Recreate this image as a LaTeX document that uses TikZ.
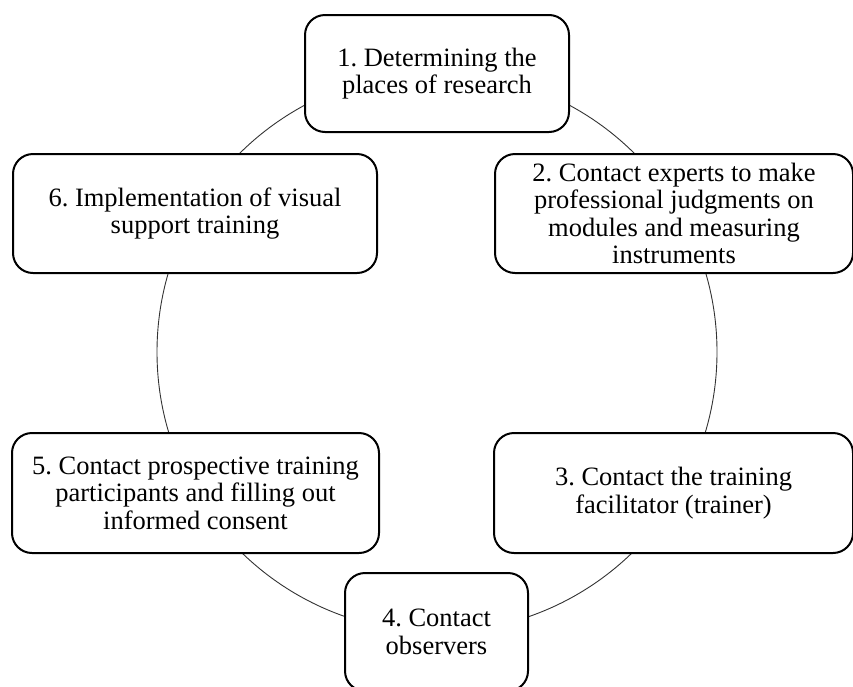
\documentclass[tikz,border=0pt]{standalone}
\usepackage{fontspec}
\setmainfont{Liberation Serif}
\begin{document}
\frenchspacing
\begin{tikzpicture}[x=1pt,y=-1pt,
  stepbox/.style={draw=black, line width=2pt, rounded corners=20pt, fill=white,
    align=center, inner sep=0pt, font=\fontsize{26.5}{27.6}\selectfont}]
\useasboundingbox (0,0) rectangle (853,686);
\clip (0,0) rectangle (853,686);
\draw[line width=0.9pt, black!80] (437,352) circle[radius=280];
\node[stepbox, minimum width=264pt, minimum height=117pt] (n1) at (437,73.5) {1. Determining the\\places of research};
\node[stepbox, minimum width=358pt, minimum height=119pt] (n2) at (674,213.5) {2. Contact experts to make\\professional judgments on\\modules and measuring\\instruments};
\node[stepbox, minimum width=359pt, minimum height=120pt] (n3) at (673.5,493) {3. Contact the training\\facilitator (trainer)};
\node[stepbox, minimum width=183pt, minimum height=118pt] (n4) at (436.5,632) {4. Contact\\observers};
\node[stepbox, minimum width=367pt, minimum height=120pt] (n5) at (195.5,493) {5. Contact prospective training\\participants and filling out\\informed consent};
\node[stepbox, minimum width=364pt, minimum height=119pt] (n6) at (195,213.5) {6. Implementation of visual\\support training};
\end{tikzpicture}
\end{document}
